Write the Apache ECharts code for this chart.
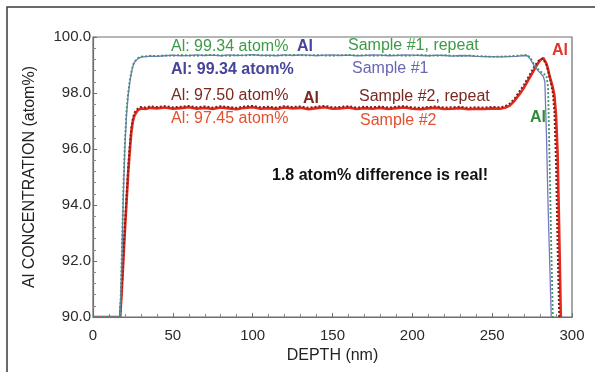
<!DOCTYPE html>
<html>
<head>
<meta charset="utf-8">
<script src="https://cdn.jsdelivr.net/npm/echarts@6/dist/echarts.min.js"></script>
<style>
  html, body { margin: 0; padding: 0; background: #fff; }
  #chart { width: 595px; height: 372px; }
</style>
</head>
<body>
<div id="chart"></div>
<script>
// Al depth profiles: [depth (nm), Al concentration (atom%)]
const sample1 = [
  [0,90],[17,90],[18,91.9],[19,94.3],[20,96.1],[21,97.2],[22,97.9],[23,98.35],[24,98.7],[25,98.95],[26,99.1],[28,99.22],
  [30,99.28],[33,99.3],[36,99.32],[40,99.31],[45,99.33],[50,99.35],[55,99.33],[60,99.34],[65,99.36],[70,99.34],[75,99.35],
  [80,99.33],[85,99.36],[90,99.34],[95,99.35],[100,99.37],[105,99.34],[110,99.35],[115,99.33],[120,99.36],[125,99.34],
  [130,99.36],[135,99.35],[140,99.33],[145,99.35],[150,99.36],[155,99.34],[160,99.35],[165,99.33],[170,99.34],[175,99.36],
  [180,99.35],[185,99.33],[190,99.34],[195,99.36],[200,99.35],[205,99.34],[210,99.33],[215,99.35],[220,99.34],[225,99.32],
  [230,99.34],[235,99.33],[240,99.31],[245,99.3],[250,99.3],[255,99.29],[260,99.3],[265,99.31],[270,99.34],[272,99.33],
  [274,99.2],[276,99.0],[278,98.85],[280,98.72],[282,98.6],[283,98.4],[284,96.5],[285,94.0],[286,92.0],[287,90]
];
const sample1Repeat = [
  [0,90],[17,90],[18,92.2],[19,94.6],[20,96.3],[21,97.4],[22,98.0],[23,98.45],[24,98.75],[25,99.0],[26,99.12],[28,99.24],
  [30,99.3],[33,99.31],[36,99.33],[40,99.32],[45,99.34],[50,99.33],[55,99.36],[60,99.34],[65,99.33],[70,99.35],[75,99.36],
  [80,99.34],[85,99.33],[90,99.35],[95,99.34],[100,99.36],[105,99.35],[110,99.33],[115,99.35],[120,99.34],[125,99.36],
  [130,99.35],[135,99.34],[140,99.36],[145,99.34],[150,99.33],[155,99.35],[160,99.36],[165,99.34],[170,99.35],[175,99.33],
  [180,99.34],[185,99.36],[190,99.35],[195,99.33],[200,99.34],[205,99.36],[210,99.34],[215,99.33],[220,99.35],[225,99.33],
  [230,99.32],[235,99.34],[240,99.32],[245,99.31],[250,99.29],[255,99.3],[260,99.31],[265,99.33],[270,99.35],[272,99.36],
  [274,99.25],[276,99.05],[278,98.9],[280,98.78],[282,98.7],[284,98.62],[285,98.2],[286,95.5],[287,92.5],[288,90]
];
const sample2 = [
  [0,90],[17,90],[18,90.9],[19,92.0],[20,93.1],[21,94.1],[22,95.1],[23,95.9],[24,96.6],[25,97.0],[26,97.2],[28,97.38],
  [30,97.45],[33,97.43],[36,97.47],[40,97.45],[45,97.48],[50,97.44],[55,97.46],[60,97.49],[65,97.44],[70,97.47],[75,97.43],
  [80,97.48],[85,97.45],[90,97.42],[95,97.47],[100,97.49],[105,97.44],[110,97.46],[115,97.43],[120,97.48],[125,97.45],
  [130,97.47],[135,97.42],[140,97.46],[145,97.49],[150,97.44],[155,97.45],[160,97.48],[165,97.43],[170,97.46],[175,97.44],
  [180,97.47],[185,97.43],[190,97.46],[195,97.48],[200,97.44],[205,97.42],[210,97.45],[215,97.47],[220,97.43],[225,97.44],
  [230,97.46],[235,97.42],[240,97.44],[245,97.43],[250,97.45],[255,97.44],[258,97.47],[261,97.55],[264,97.72],[267,97.95],
  [270,98.2],[273,98.5],[276,98.8],[278,99.0],[280,99.17],[282,99.25],[283,99.2],[284,99.05],[285,98.85],[286,98.6],
  [287,98.4],[288,98.2],[289,97.9],[290,97.2],[291,95.8],[292,93.0],[293,90]
];
const sample2Repeat = [
  [0,90],[17,90],[18,91.0],[19,92.2],[20,93.3],[21,94.3],[22,95.3],[23,96.1],[24,96.75],[25,97.1],[26,97.3],[28,97.44],
  [30,97.5],[33,97.48],[36,97.52],[40,97.5],[45,97.53],[50,97.49],[55,97.51],[60,97.54],[65,97.49],[70,97.52],[75,97.48],
  [80,97.53],[85,97.5],[90,97.47],[95,97.52],[100,97.54],[105,97.49],[110,97.51],[115,97.48],[120,97.53],[125,97.5],
  [130,97.52],[135,97.47],[140,97.51],[145,97.54],[150,97.49],[155,97.5],[160,97.53],[165,97.48],[170,97.51],[175,97.49],
  [180,97.52],[185,97.48],[190,97.51],[195,97.53],[200,97.49],[205,97.47],[210,97.5],[215,97.52],[220,97.48],[225,97.49],
  [230,97.51],[235,97.47],[240,97.49],[245,97.48],[250,97.5],[255,97.49],[258,97.52],[261,97.62],[264,97.8],[267,98.05],
  [270,98.3],[273,98.6],[276,98.9],[278,99.08],[280,99.2],[282,99.22],[283,99.15],[284,99.0],[285,98.8],[286,98.55],
  [287,98.3],[288,98.0],[289,97.3],[290,95.5],[291,92.5],[292,90]
];

const FONT = '"Liberation Sans", Arial, Helvetica, sans-serif';

// Annotation text placed over the plot
const notes = [
  { text: 'Al: 99.34 atom%', x: 171, y: 47, color: '#3e9a48', weight: 'normal' },
  { text: 'Al', x: 297, y: 47, color: '#45449a', weight: 'bold' },
  { text: 'Sample #1, repeat', x: 348, y: 46, color: '#3e9a48', weight: 'normal' },
  { text: 'Al: 99.34 atom%', x: 171, y: 70, color: '#45449a', weight: 'bold' },
  { text: 'Sample #1', x: 352, y: 69, color: '#6666b4', weight: 'normal' },
  { text: 'Al: 97.50 atom%', x: 171, y: 96, color: '#7a2820', weight: 'normal' },
  { text: 'Al', x: 303, y: 99, color: '#7a2820', weight: 'bold' },
  { text: 'Sample #2, repeat', x: 359, y: 97, color: '#7a2820', weight: 'normal' },
  { text: 'Al: 97.45 atom%', x: 171, y: 119, color: '#e2502e', weight: 'normal' },
  { text: 'Sample #2', x: 360, y: 121, color: '#e2502e', weight: 'normal' },
  { text: 'Al', x: 552, y: 51, color: '#e0352a', weight: 'bold' },
  { text: 'Al', x: 530, y: 118, color: '#2f8a3a', weight: 'bold' },
  { text: '1.8 atom% difference is real!', x: 272, y: 176, color: '#111111', weight: 'bold' }
];

const chart = echarts.init(document.getElementById('chart'), null, { renderer: 'canvas' });

const graphics = notes.map(n => ({
  type: 'text',
  z: 100,
  style: {
    text: n.text, x: n.x, y: n.y, fill: n.color,
    fontFamily: FONT, fontSize: 16, fontWeight: n.weight,
    textAlign: 'left', textVerticalAlign: 'middle'
  }
}));
// figure frame (top and left edges)
graphics.push({
  type: 'polyline', z: 100,
  shape: { points: [[7, 372], [7, 7], [595, 7]] },
  style: { stroke: '#3a3a3a', lineWidth: 1.5, fill: null }
});

const axisCommon = {
  axisLine: { show: true, lineStyle: { color: '#6e6e6e', width: 1.2 } },
  axisTick: { show: true, inside: true, length: 4, lineStyle: { color: '#6e6e6e' } },
  minorTick: { show: true, splitNumber: 5, length: 3, lineStyle: { color: '#8a8a8a' } },
  splitLine: { show: false },
  axisLabel: { color: '#2a2a2a', fontFamily: FONT, fontSize: 15 },
  nameTextStyle: { color: '#222', fontFamily: FONT, fontSize: 16 }
};

chart.setOption({
  animation: false,
  backgroundColor: '#ffffff',
  grid: {
    left: 93, right: 23, top: 37, bottom: 55,
    show: true, borderColor: '#6e6e6e', borderWidth: 1.2, backgroundColor: 'transparent'
  },
  xAxis: Object.assign({}, axisCommon, {
    type: 'value', min: 0, max: 300, interval: 50,
    name: 'DEPTH (nm)', nameLocation: 'middle', nameGap: 24,
    axisLabel: Object.assign({}, axisCommon.axisLabel, { margin: 11 })
  }),
  yAxis: Object.assign({}, axisCommon, {
    type: 'value', min: 90, max: 100, interval: 2,
    name: 'Al CONCENTRATION (atom%)', nameLocation: 'middle', nameGap: 55,
    axisLabel: Object.assign({}, axisCommon.axisLabel, {
      margin: 2, formatter: v => v.toFixed(1)
    })
  }),
  series: [
    {
      name: 'Sample #2', type: 'line', data: sample2, showSymbol: false,
      lineStyle: { color: '#e52a1c', width: 2.6 }, z: 2
    },
    {
      name: 'Sample #2, repeat', type: 'line', data: sample2Repeat, showSymbol: false,
      lineStyle: { color: '#7e2020', width: 2, type: [2, 2] }, z: 3
    },
    {
      name: 'Sample #1', type: 'line', data: sample1, showSymbol: false,
      lineStyle: { color: '#7878c6', width: 1.3 }, z: 4
    },
    {
      name: 'Sample #1, repeat', type: 'line', data: sample1Repeat, showSymbol: false,
      lineStyle: { color: '#3f9566', width: 1.8, type: [2, 2] }, z: 5
    }
  ],
  graphic: graphics
});
</script>
</body>
</html>
